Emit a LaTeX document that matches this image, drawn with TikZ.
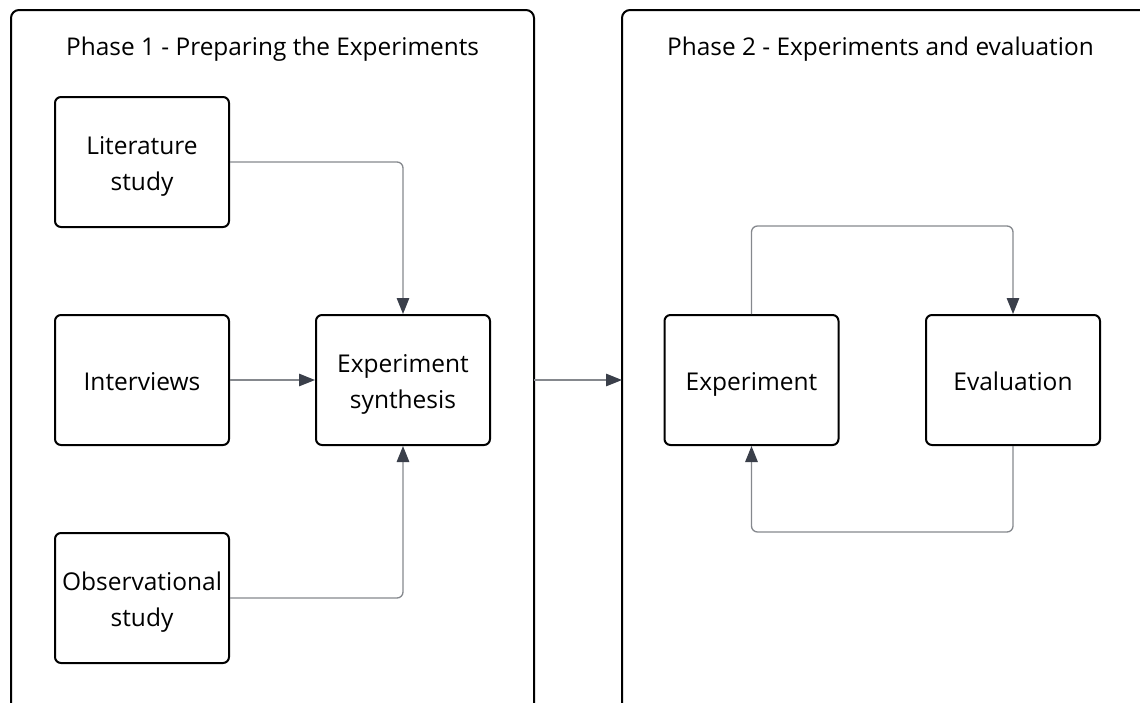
\documentclass[tikz,border=0pt]{standalone}
\usepackage{fontspec}
\setmainfont{Open Sans}
\usetikzlibrary{arrows.meta}
\definecolor{linegray}{HTML}{85888D}
\definecolor{tipgray}{HTML}{3A3F4A}
\newcommand\bxstrut{\rule[-7.5pt]{0pt}{35pt}}
\begin{document}
\begin{tikzpicture}[x=1pt,y=-1pt,
  phasebox/.style={draw=black,line width=2pt,rounded corners=8pt},
  stepbox/.style={draw=black,line width=2pt,rounded corners=6pt,minimum width=174pt,minimum height=130pt,align=center,inner sep=0pt,font=\fontsize{24.5}{36}\selectfont},
  titletext/.style={font=\fontsize{24.4}{28}\selectfont,anchor=base west,inner sep=0pt},
  conn/.style={draw=linegray,line width=1.3pt,rounded corners=6pt,-{Triangle[length=16pt,width=12.5pt,color=tipgray]}}]
\useasboundingbox (0,0) rectangle (1140,702);
\begin{scope}
\clip (0,0) rectangle (1140,702);
\draw[phasebox] (11,740) -- (11,10) -- (534,10) -- (534,740);
\draw[phasebox] (622,740) -- (622,10) -- (1180,10);
\end{scope}
\coordinate (p1e) at (534,380);
\coordinate (p2e) at (622,380);
\node[titletext] (t1) at (66,55) {Phase 1 - Preparing the Experiments};
\node[titletext] (t2) at (667,55) {Phase 2 - Experiments and evaluation};
\node[stepbox] (lit) at (142,162) {Literature\bxstrut\\study\bxstrut};
\node[stepbox] (int) at (142,380) {Interviews\bxstrut};
\node[stepbox] (obs) at (142,598) {Observational\bxstrut\\study\bxstrut};
\node[stepbox] (syn) at (403,380) {Experiment\bxstrut\\synthesis\bxstrut};
\node[stepbox] (exp) at (751.5,380) {Experiment\bxstrut};
\node[stepbox] (eva) at (1013,380) {Evaluation\bxstrut};
\draw[conn] (lit.east) -| (syn.north);
\draw[conn] (int.east) -- (syn.west);
\draw[conn] (obs.east) -| (syn.south);
\draw[conn] (p1e) -- (p2e);
\draw[conn] (exp.north) -- ++(0,-88) -| (eva.north);
\draw[conn] (eva.south) -- ++(0,86) -| (exp.south);
\end{tikzpicture}
\end{document}
